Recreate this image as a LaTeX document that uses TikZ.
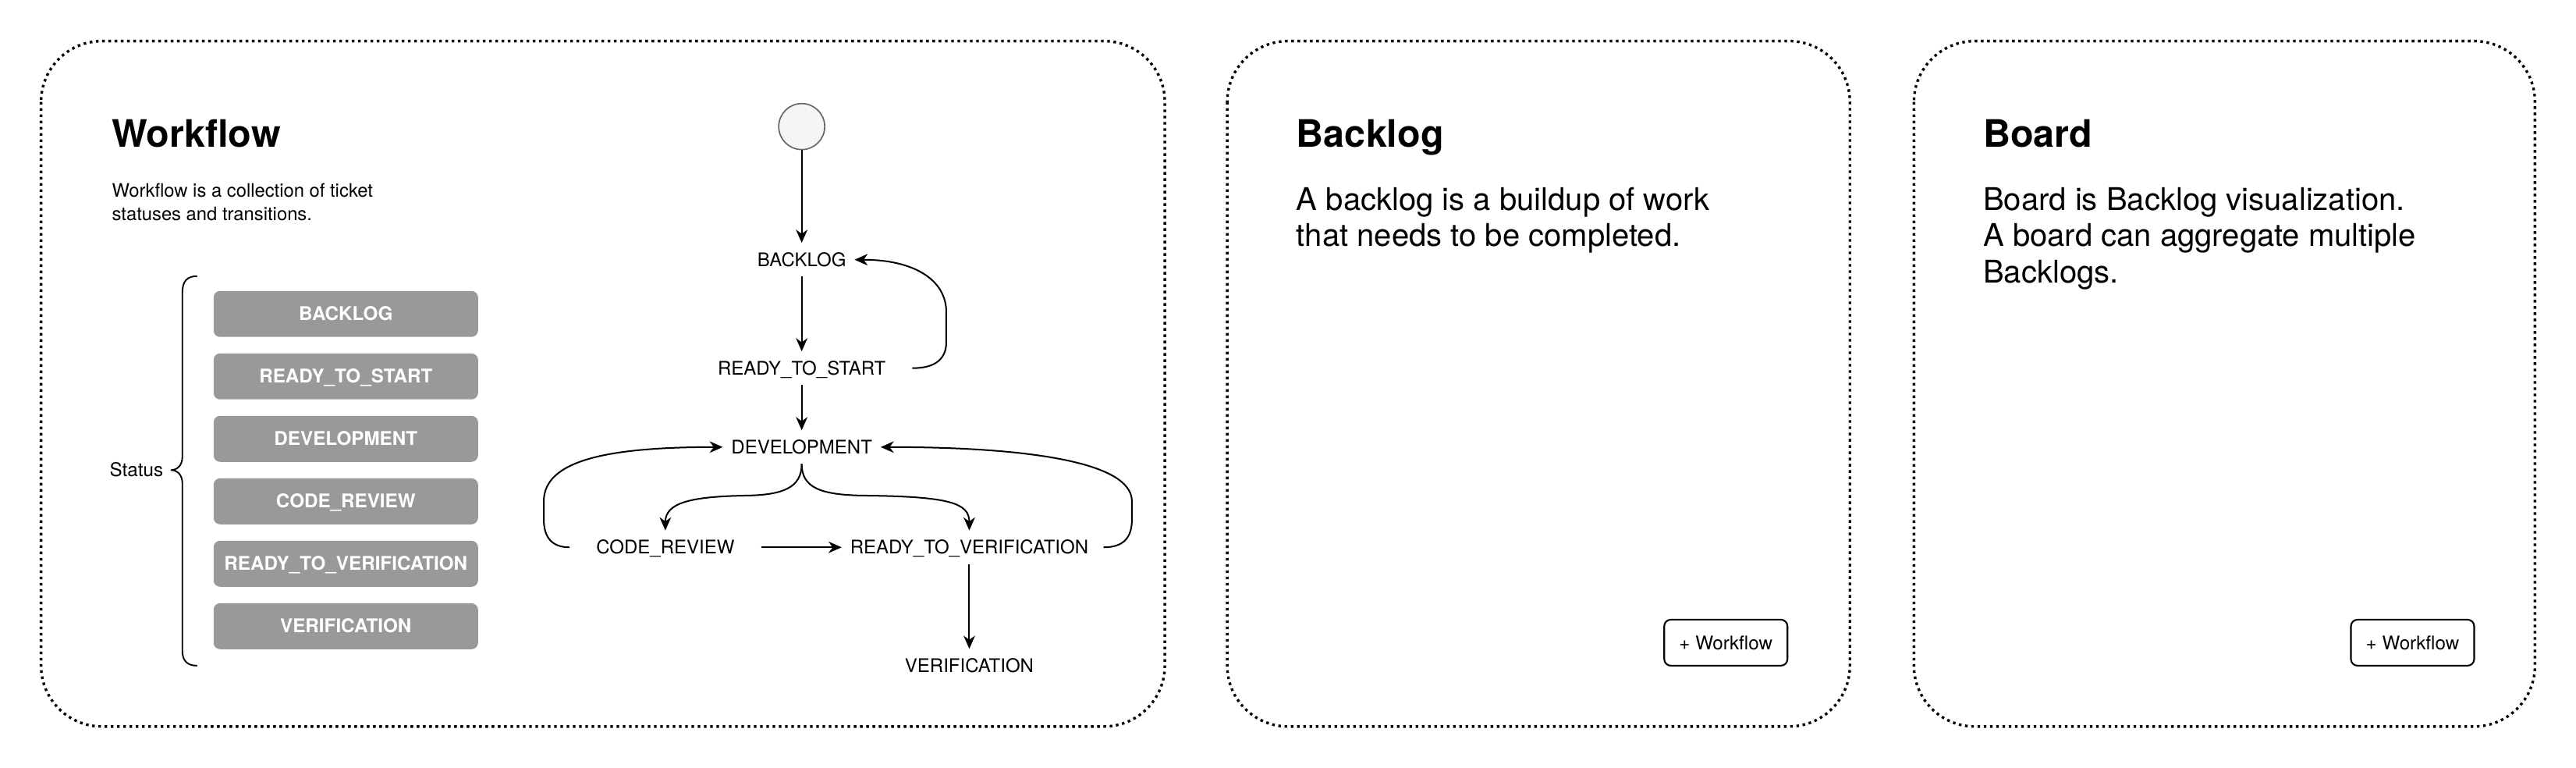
\documentclass[tikz,border=0pt]{standalone}
\usepackage{fontspec}
\setmainfont{TeX Gyre Heros}
\usetikzlibrary{arrows.meta,calc}
\definecolor{boxgray}{HTML}{999999}
\definecolor{startfill}{HTML}{F5F5F5}
\definecolor{startline}{HTML}{666666}
\begin{document}
\begin{tikzpicture}[x=1pt,y=-1pt,
  panel/.style={draw, line width=1.6pt, dash pattern=on 1.6pt off 2.2pt, rounded corners=37pt},
  titletext/.style={font=\fontsize{23}{27}\selectfont\bfseries, inner sep=0pt, anchor=base west},
  bodytext/.style={font=\fontsize{19}{22}\selectfont, inner sep=0pt, anchor=base west},
  smalltext/.style={font=\fontsize{11.3}{14}\selectfont, inner sep=0pt, anchor=base west},
  statusbox/.style={fill=boxgray, rounded corners=4pt, minimum width=161pt, minimum height=28pt, inner sep=0pt,
     text=white, font=\fontsize{11.5}{13}\selectfont\bfseries, text height=8.2pt, text depth=0pt},
  flowlbl/.style={font=\fontsize{11.4}{13}\selectfont, text height=8.1pt, text depth=0pt, inner xsep=5pt, inner ysep=6pt},
  arr/.style={-{Stealth[length=8pt,width=7pt,inset=2.5pt]}, line width=0.95pt},
  plain/.style={line width=0.9pt},
  btn/.style={draw, line width=1pt, rounded corners=4pt, minimum width=75pt, minimum height=28pt, inner sep=0pt,
     font=\fontsize{11.5}{13}\selectfont, text height=8.2pt, text depth=0pt}
]
\useasboundingbox (0,0) rectangle (1568,467);

% panels
\draw[panel] (25,25) rectangle (709,442);
\draw[panel] (747,25) rectangle (1126,442);
\draw[panel] (1165,25) rectangle (1543,442);

% Workflow panel texts
\node[titletext] (wftitle) at (68,89.5) {Workflow};
\node[smalltext] (wfd1) at (68,120) {Workflow is a collection of ticket};
\node[smalltext] (wfd2) at (68,134) {statuses and transitions.};

% status list
\node[statusbox] (sb1) at (210.5,191) {BACKLOG};
\node[statusbox] (sb2) at (210.5,229) {READY\_TO\_START};
\node[statusbox] (sb3) at (210.5,267) {DEVELOPMENT};
\node[statusbox] (sb4) at (210.5,305) {CODE\_REVIEW};
\node[statusbox] (sb5) at (210.5,343) {READY\_TO\_VERIFICATION};
\node[statusbox] (sb6) at (210.5,381) {VERIFICATION};

\node[font=\fontsize{11.5}{13}\selectfont, inner sep=0pt, text height=8.2pt, text depth=0pt, anchor=east] (status) at (99.5,286) {Status};
\coordinate (brtop) at (120,168);
\coordinate (brtip) at (104,286);
\coordinate (brbot) at (120,405);
\draw[plain] (brtop) .. controls (114,168) and (111,171) .. (111,178) -- (111,278)
  .. controls (111,283) and (108,286) .. (brtip)
  .. controls (108,286) and (111,289) .. (111,294) -- (111,396)
  .. controls (111,402) and (114,405) .. (brbot);

% flow
\node[circle, draw=startline, fill=startfill, line width=0.8pt, minimum size=28pt, inner sep=0pt] (start) at (488,77) {};
\node[flowlbl] (fbl) at (488,158) {BACKLOG};
\node[flowlbl] (frts) at (488,224) {READY\_TO\_START};
\node[flowlbl] (fdev) at (488,272) {DEVELOPMENT};
\node[flowlbl] (fcr) at (405,333) {CODE\_REVIEW};
\node[flowlbl] (frtv) at (590,333) {READY\_TO\_VERIFICATION};
\node[flowlbl] (fver) at (590,405) {VERIFICATION};

\draw[arr] (start) -- (fbl);
\draw[arr] (fbl) -- (frts);
\draw[arr] (frts) -- (fdev);
\draw[arr] ($(fcr.east)+(11,0)$) -- (frtv.west);
\draw[arr] (frtv) -- (fver);

% loop RTS -> BACKLOG
\draw[arr] ($(frts.east)+(11,0)$) .. controls (571,224) and (576,217) .. (576,208) -- (576,190)
  .. controls (576,170) and (556,158) .. (fbl.east);
% DEV -> CR
\draw[arr] (fdev.south) .. controls (488,297) and (476,301) .. (455,301.5)
  .. controls (420,302) and (405,306) .. (fcr.north);
% DEV -> RTV
\draw[arr] (fdev.south) .. controls (488,297) and (500,301) .. (525,301.5)
  .. controls (578,302) and (590,306) .. (frtv.north);
% CR -> DEV loop
\draw[arr] ($(fcr.west)+(-11,0)$) .. controls (336,333) and (331,327) .. (331,316) -- (331,305)
  .. controls (331,280) and (370,272) .. (fdev.west);
% RTV -> DEV loop
\draw[arr] ($(frtv.east)+(4,0)$) .. controls (684,333) and (689,327) .. (689,316) -- (689,305)
  .. controls (689,280) and (620,272) .. (fdev.east);

% Backlog panel
\node[titletext] (bltitle) at (789,89.5) {Backlog};
\node[bodytext] (bl1) at (789,128) {A backlog is a buildup of work};
\node[bodytext] (bl2) at (789,150) {that needs to be completed.};
\node[btn] (blbtn) at (1050.5,391) {+ Workflow};

% Board panel
\node[titletext] (bdtitle) at (1207,89.5) {Board};
\node[bodytext] (bd1) at (1207,128) {Board is Backlog visualization.};
\node[bodytext] (bd2) at (1207,150) {A board can aggregate multiple};
\node[bodytext] (bd3) at (1207,172) {Backlogs.};
\node[btn] (bdbtn) at (1468.5,391) {+ Workflow};
\end{tikzpicture}
\end{document}
